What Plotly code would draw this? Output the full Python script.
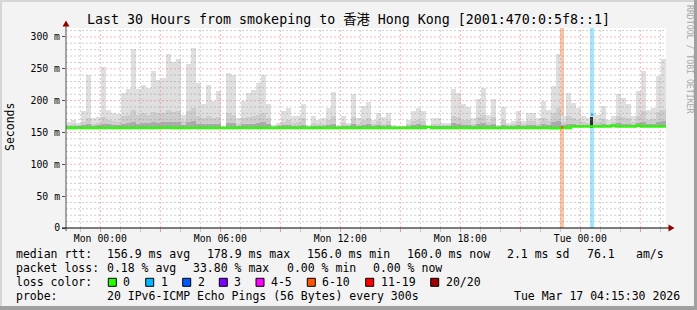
import plotly.graph_objects as go
from datetime import datetime, timedelta

# ---------------- data ----------------
t_start = datetime(2026, 3, 15, 22, 17, 0)
t_end = datetime(2026, 3, 17, 4, 17, 0)
bin_min = 15  # minutes per smoke bin

# top of the lightest smoke (ms)
smoke_max = [
    167, 170, 165, 183, 240, 173, 175, 253, 186, 180, 179, 212, 218, 281, 218, 225, 220, 247, 233, 235,
    273, 260, 266, 178, 257, 283, 228, 194, 225, 199, 215, 160, 244, 241, 173, 199, 212, 217, 228, 241,
    195, 162, 165, 183, 189, 176, 176, 194, 162, 176, 170, 173, 189, 214, 162, 176, 165, 211, 173, 191,
    198, 170, 181, 174, 181, 162, 160, 160, 170, 183, 189, 183, 160, 173, 173, 165, 165, 219, 212, 194,
    190, 173, 202, 220, 178, 203, 162, 190, 165, 168, 183, 168, 181, 181, 173, 200, 186, 223, 273, 176,
    212, 197, 189, 176, 173, 181, 178, 191, 170, 176, 210, 204, 194, 176, 215, 247, 186, 189, 239, 265,
]
# top of the medium smoke (ms)
smoke_mid = [
    162, 163, 161, 166, 172, 163, 165, 175, 170, 168, 167, 176, 178, 185, 178, 180, 178, 182, 180, 181,
    185, 182, 184, 168, 183, 188, 176, 172, 176, 172, 174, 158, 180, 178, 164, 172, 174, 176, 177, 180,
    172, 160, 161, 167, 170, 165, 166, 172, 160, 165, 163, 164, 170, 176, 160, 165, 162, 175, 163, 170,
    172, 163, 168, 164, 168, 160, 159, 159, 163, 168, 170, 168, 159, 164, 164, 162, 162, 176, 174, 170,
    170, 164, 174, 178, 166, 175, 160, 170, 162, 163, 168, 163, 168, 168, 164, 172, 168, 180, 188, 166,
    176, 172, 170, 166, 165, 168, 167, 171, 164, 166, 176, 174, 172, 166, 176, 184, 170, 171, 182, 186,
]
# top of the dark smoke (ms)
smoke_dark = [
    159, 160, 159, 161, 163, 160, 161, 164, 163, 162, 162, 164, 165, 166, 164, 165, 165, 166, 165, 166,
    167, 166, 167, 162, 166, 168, 164, 163, 164, 163, 164, 157, 165, 165, 160, 163, 164, 164, 165, 166,
    163, 158, 159, 161, 162, 160, 160, 162, 158, 160, 159, 160, 162, 164, 158, 160, 159, 163, 160, 162,
    163, 160, 161, 160, 161, 158, 158, 158, 160, 162, 163, 162, 158, 160, 160, 159, 159, 165, 164, 162,
    162, 160, 163, 165, 161, 163, 158, 162, 159, 160, 162, 160, 161, 161, 160, 163, 162, 166, 168, 161,
    163, 163, 162, 162, 161, 162, 162, 163, 161, 162, 165, 164, 163, 161, 165, 167, 163, 163, 166, 168,
]
# median rtt (ms)
median_rtt = [
    157.0, 157.0, 157.2, 157.0, 157.0, 157.1, 157.0, 157.0, 157.2, 157.0, 157.0, 157.0, 157.1, 157.0, 157.0, 157.2, 157.0, 157.0, 157.0, 157.5,
    157.3, 157.0, 157.0, 157.0, 157.0, 157.2, 157.0, 157.0, 157.0, 157.0, 157.0, 157.0, 157.0, 157.0, 157.0, 157.2, 157.0, 157.0, 157.0, 157.0,
    157.0, 157.0, 157.0, 157.0, 157.2, 157.0, 157.0, 157.0, 157.0, 157.0, 157.1, 157.0, 157.0, 157.0, 157.0, 157.0, 157.0, 157.0, 157.0, 157.0,
    157.0, 157.0, 157.0, 157.0, 157.0, 157.0, 157.0, 157.0, 157.0, 157.0, 157.0, 157.0, 158.8, 157.0, 157.0, 157.0, 157.0, 157.0, 157.0, 157.0,
    157.0, 157.0, 157.0, 157.0, 157.0, 157.0, 157.0, 157.0, 157.0, 157.0, 157.0, 157.0, 157.0, 157.0, 157.0, 157.0, 157.0, 156.6, 156.6, 157.8,
    157.0, 159.4, 159.4, 159.4, 159.4, 159.4, 159.4, 159.4, 159.4, 160.6, 159.4, 159.4, 159.4, 159.4, 160.6, 159.4, 159.4, 159.4, 159.4, 159.4,
]

# loss events
loss_start = [datetime(2026, 3, 16, 23, 0), datetime(2026, 3, 17, 0, 30)]
loss_minutes = [10, 10]
loss_class = [5, 1]            # index into loss legend
loss_median = [157.8, 178.0]
loss_dark_top = [None, 175.0]

loss_labels = ["0", "1", "2", "3", "4-5", "6-10", "11-19", "20/20"]
loss_colors = ["#26ff00", "#00b8ff", "#0059ff", "#7e00ff", "#ff00ff", "#ff5500", "#ff0000", "#a10000"]

y_top = 314
y_tickvals = [0, 50, 100, 150, 200, 250, 300]
y_ticktext = ["0", "50 m", "100 m", "150 m", "200 m", "250 m", "300 m"]
x_tickvals = [datetime(2026, 3, 16, h) for h in (0, 3, 6, 9, 12, 15, 18, 21)] + \
             [datetime(2026, 3, 17, h) for h in (0, 3)]
x_ticktext = ["Mon 00:00", "", "Mon 06:00", "", "Mon 12:00", "", "Mon 18:00", "", "Tue 00:00", ""]

title_text = "Last 30 Hours from smokeping to 香港 Hong Kong [2001:470:0:5f8::1]"
legend_rows = [
    [("median rtt:", 16), ("156.9 ms avg", 107.3), ("178.9 ms max", 207.3), ("156.0 ms min", 307.3),
     ("160.0 ms now", 407.3), ("2.1 ms sd", 507.3), ("76.1", 586.7), ("am/s", 636)],
    [("packet loss:", 16), ("0.18 % avg", 107.3), ("33.80 % max", 193.3), ("0.00 % min", 286.7),
     ("0.00 % now", 372.7)],
    [("loss color:", 16)],
    [("probe:", 16), ("20 IPv6-ICMP Echo Pings (56 Bytes) every 300s", 107.3)],
]
stamp_text = "Tue Mar 17 04:15:30 2026"

# ---------------- layout geometry ----------------
W, H = 697, 310
L, T, PW, PH = 66, 28, 600, 200
FONT = "DejaVu Sans Mono, Noto Sans CJK SC, monospace"
row_y = [254.3, 268.3, 282.3, 296.3]
box_x = [108.3, 145.7, 182.7, 219.3, 256.0, 307.3, 365.7, 430.7]
box_label_x = [123.3, 160.7, 197.7, 234.3, 271.0, 321.7, 380.7, 445.7]


def px(x):
    return (x - L) / PW


def py(y):
    return (T + PH - y) / PH


n = len(smoke_max)
bin_starts = [t_start + timedelta(minutes=bin_min * i) for i in range(n)]
bin_centers = [b + timedelta(minutes=bin_min / 2) for b in bin_starts]
bw = bin_min * 60 * 1000

fig = go.Figure()

# loss bands
for s, m, c in zip(loss_start, loss_minutes, loss_class):
    fig.add_trace(go.Bar(x=[s + timedelta(minutes=m / 2)], y=[y_top], base=[0], width=m * 60 * 1000,
                         marker=dict(color=loss_colors[c], line=dict(width=0)), opacity=0.36))

# smoke layers
for top, col in ((smoke_max, "#dfdfdf"), (smoke_mid, "#cdcdcd"), (smoke_dark, "#ababab")):
    fig.add_trace(go.Bar(x=bin_centers, y=[a - b for a, b in zip(top, median_rtt)], base=median_rtt,
                         width=bw, marker=dict(color=col, line=dict(width=0))))

# median line
fig.add_trace(go.Scatter(x=bin_starts + [t_end], y=median_rtt + [median_rtt[-1]], mode="lines",
                         line=dict(color=loss_colors[0], width=2.4, shape="hv")))

# loss event dark columns & coloured median segments
for s, m, c, med, dk in zip(loss_start, loss_minutes, loss_class, loss_median, loss_dark_top):
    if dk is not None:
        fig.add_trace(go.Bar(x=[s + timedelta(minutes=m / 2 - 1)], y=[dk - 157], base=[157],
                             width=5 * 60 * 1000, marker=dict(color="#303030", line=dict(width=0))))
    fig.add_trace(go.Scatter(x=[s + timedelta(minutes=2), s + timedelta(minutes=m - 1)], y=[med, med],
                             mode="lines", line=dict(color=loss_colors[c], width=2.4)))

shapes = []
RED = "rgba(240,110,110,0.5)"
GRAY = "rgba(140,140,140,0.42)"
h = t_start.replace(minute=0, second=0) + timedelta(hours=1)
while h < t_end:
    shapes.append(dict(type="line", xref="x", yref="paper", x0=h, x1=h, y0=0, y1=1, layer="above",
                       line=dict(color=RED if h.hour % 3 == 0 else GRAY, width=1, dash="2px,2px")))
    h += timedelta(hours=1)
for v in range(10, y_top, 10):
    shapes.append(dict(type="line", xref="paper", yref="y", x0=0, x1=1, y0=v, y1=v, layer="above",
                       line=dict(color=RED if v % 50 == 0 else GRAY, width=1, dash="2px,2px")))

# axes lines and arrows
AX = "#900000"
shapes.append(dict(type="line", xref="paper", yref="paper", x0=px(66), x1=px(66), y0=py(231), y1=py(25),
                   line=dict(color="#505050", width=1), layer="above"))
shapes.append(dict(type="line", xref="paper", yref="paper", x0=px(62), x1=px(669), y0=py(228), y1=py(228),
                   line=dict(color="#000000", width=1), layer="above"))
shapes.append(dict(type="path", xref="paper", yref="paper", layer="above", fillcolor=AX, line=dict(width=0),
                   path=f"M {px(66)},{py(20.5)} L {px(62.5)},{py(26.5)} L {px(69.5)},{py(26.5)} Z"))
shapes.append(dict(type="path", xref="paper", yref="paper", layer="above", fillcolor=AX, line=dict(width=0),
                   path=f"M {px(674.5)},{py(228)} L {px(668.5)},{py(224.5)} L {px(668.5)},{py(231.5)} Z"))

# outer frame
shapes.append(dict(type="rect", xref="paper", yref="paper", x0=px(0), x1=px(2), y0=py(310), y1=py(0),
                   fillcolor="#d6d6d6", line=dict(width=0)))
shapes.append(dict(type="rect", xref="paper", yref="paper", x0=px(0), x1=px(697), y0=py(2), y1=py(0),
                   fillcolor="#d6d6d6", line=dict(width=0)))
shapes.append(dict(type="rect", xref="paper", yref="paper", x0=px(694), x1=px(697), y0=py(310), y1=py(0),
                   fillcolor="#a0a0a0", line=dict(width=0)))
shapes.append(dict(type="rect", xref="paper", yref="paper", x0=px(0), x1=px(697), y0=py(310), y1=py(306),
                   fillcolor="#a0a0a0", line=dict(width=0)))

# loss legend boxes
for bx, col in zip(box_x, loss_colors):
    shapes.append(dict(type="rect", xref="paper", yref="paper", x0=px(bx), x1=px(bx + 8),
                       y0=py(row_y[2] + 4), y1=py(row_y[2] - 4), fillcolor=col,
                       line=dict(color="#000000", width=1)))

ann = []


def add_text(text, x, y, size=11.5, anchor="left", color="#000000", angle=0):
    ann.append(dict(text=text, x=px(x), y=py(y), xref="paper", yref="paper", xanchor=anchor, yanchor="middle",
                    showarrow=False, borderpad=0, borderwidth=0, textangle=angle,
                    font=dict(family=FONT, size=size, color=color)))


add_text(title_text, 348.5, 19, size=13.3, anchor="center")
add_text("Seconds", 10, 127, size=11.5, anchor="center", angle=-90)
add_text("RRDTOOL / TOBI OETIKER", 690, 59, size=8.2, anchor="center", color="#a8a8a8", angle=90)
for row, yy in zip(legend_rows, row_y):
    for txt, xx in row:
        add_text(txt, xx, yy)
for lab, xx in zip(loss_labels, box_label_x):
    add_text(lab, xx, row_y[2])
add_text(stamp_text, 680, row_y[3], anchor="right")

fig.update_layout(
    width=W, height=H, autosize=False,
    margin=dict(l=L, r=W - L - PW, t=T, b=H - T - PH, pad=0),
    paper_bgcolor="#f3f3f3", plot_bgcolor="#ffffff",
    barmode="overlay", bargap=0, showlegend=False,
    shapes=shapes, annotations=ann,
    xaxis=dict(type="date", range=[t_start, t_end], tickmode="array", tickvals=x_tickvals, ticktext=x_ticktext,
               ticks="outside", ticklen=3, tickcolor=RED, showgrid=False, zeroline=False, showline=False,
               tickfont=dict(family=FONT, size=9.8, color="#000000"), ticklabelstandoff=-2,
               minor=dict(tickmode="linear", tick0="2026-03-16 00:00", dtick=3600000, ticks="outside",
                          ticklen=3, tickcolor=GRAY, showgrid=False)),
    yaxis=dict(range=[0, y_top], tickmode="array", tickvals=y_tickvals, ticktext=y_ticktext,
               ticks="outside", ticklen=3, tickcolor="#505050", showgrid=False, zeroline=False, showline=False,
               tickfont=dict(family=FONT, size=9.8, color="#000000")),
)

fig.write_html("out.html")
